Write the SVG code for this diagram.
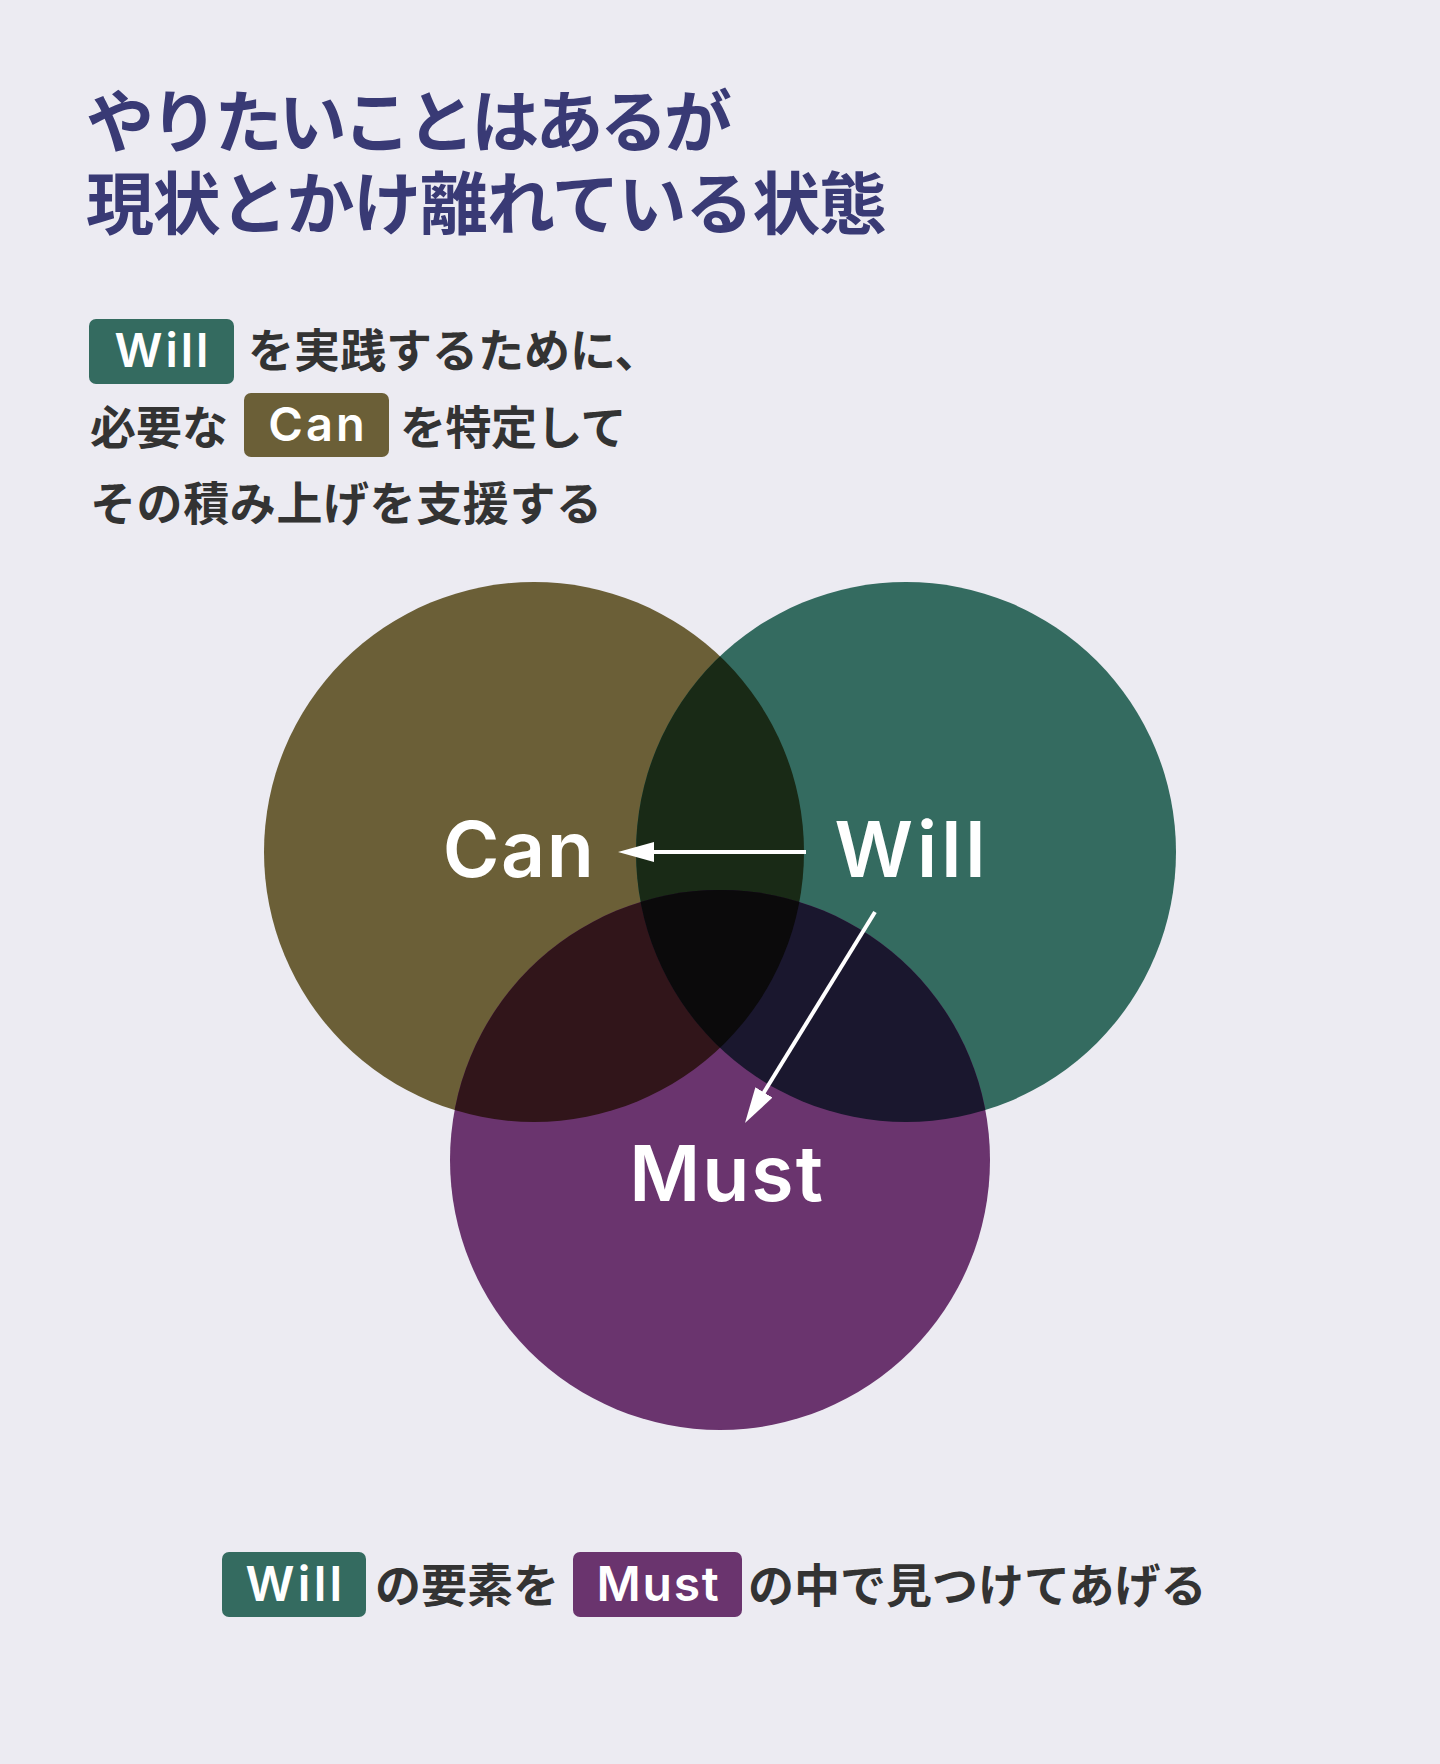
<svg xmlns="http://www.w3.org/2000/svg" width="1440" height="1764" viewBox="0 0 1440 1764">
  <style>
    .title { font-family: "Noto Sans CJK JP", "Noto Sans", sans-serif; font-weight: 700; font-size: 68px; fill: #393a75; }
    .body { font-family: "Noto Sans CJK JP", "Noto Sans", sans-serif; font-weight: 700; font-size: 46px; fill: #333333; }
    .foot { font-family: "Noto Sans CJK JP", "Noto Sans", sans-serif; font-weight: 700; font-size: 46px; fill: #333333; }
    .tag { font-family: Inter, "Noto Sans", sans-serif; font-weight: 600; fill: #ffffff; text-anchor: middle; }
    .big { font-family: Inter, "Noto Sans", sans-serif; font-weight: 600; font-size: 77px; fill: #ffffff; text-anchor: middle; }
    .arrow { stroke: #ffffff; stroke-width: 4; fill: none; }
  </style>
  <defs>
    <circle id="cCan" cx="534" cy="852" r="270"/>
    <circle id="cWill" cx="906" cy="852" r="270"/>
    <circle id="cMust" cx="720" cy="1160" r="270"/>
    <clipPath id="clipCan"><use href="#cCan"/></clipPath>
    <clipPath id="clipWill"><use href="#cWill"/></clipPath>
    <clipPath id="clipMust"><use href="#cMust"/></clipPath>
    <marker id="head" markerUnits="userSpaceOnUse" markerWidth="36" markerHeight="20" refX="16" refY="10" orient="auto">
      <path d="M0,0 L36,10 L0,20 Z" fill="#ffffff"/>
    </marker>
  </defs>
  <rect width="1440" height="1764" fill="#ecebf2"/>

  <g id="title">
    <text class="title" x="86" y="147" textLength="646">やりたいことはあるが</text>
    <text class="title" x="86" y="229" textLength="801">現状とかけ離れている状態</text>
  </g>

  <g id="intro">
    <rect x="89" y="319" width="145" height="65" rx="7" fill="#346b60"/>
    <text class="tag" x="163" y="367" font-size="47" letter-spacing="3">Will</text>
    <text class="body" x="248" y="367">を実践するために、</text>
    <text class="body" x="90" y="444">必要な</text>
    <rect x="244" y="393" width="145" height="64" rx="7" fill="#6b5f37"/>
    <text class="tag" x="318" y="441" font-size="47" letter-spacing="3">Can</text>
    <text class="body" x="400" y="444" letter-spacing="-0.5">を特定して</text>
    <text class="body" x="90" y="520" letter-spacing="0.6">その積み上げを支援する</text>
  </g>

  <g id="venn">
    <g id="node-can"><use href="#cCan" fill="#6b5f37"/></g>
    <g id="node-will"><use href="#cWill" fill="#346b60"/></g>
    <g id="node-must"><use href="#cMust" fill="#6a346e"/></g>
    <g id="overlap-can-will" clip-path="url(#clipCan)"><use href="#cWill" fill="#192a16"/></g>
    <g id="overlap-can-must" clip-path="url(#clipCan)"><use href="#cMust" fill="#31151a"/></g>
    <g id="overlap-will-must" clip-path="url(#clipWill)"><use href="#cMust" fill="#1a172e"/></g>
    <g id="overlap-all" clip-path="url(#clipCan)"><g clip-path="url(#clipWill)"><use href="#cMust" fill="#0b0a0b"/></g></g>
    <text class="big" x="519" y="877" letter-spacing="1.5">Can</text>
    <text class="big" x="912" y="877" letter-spacing="4">Will</text>
    <text class="big" x="727" y="1201" letter-spacing="2">Must</text>
  </g>

  <g id="connectors">
    <line class="arrow" x1="806" y1="852" x2="638" y2="852" marker-end="url(#head)"/>
    <line class="arrow" x1="875" y1="912" x2="755.5" y2="1106" marker-end="url(#head)"/>
  </g>

  <g id="footer">
    <rect x="222" y="1552" width="144" height="65" rx="7" fill="#346b60"/>
    <text class="tag" x="295.5" y="1601" font-size="48" letter-spacing="3.3">Will</text>
    <text class="foot" x="375" y="1602">の要素を</text>
    <rect x="573" y="1552" width="169" height="65" rx="7" fill="#6a346e"/>
    <text class="tag" x="658.5" y="1601" font-size="48" letter-spacing="1.7">Must</text>
    <text class="foot" x="748" y="1602">の中で見つけてあげる</text>
  </g>
</svg>
